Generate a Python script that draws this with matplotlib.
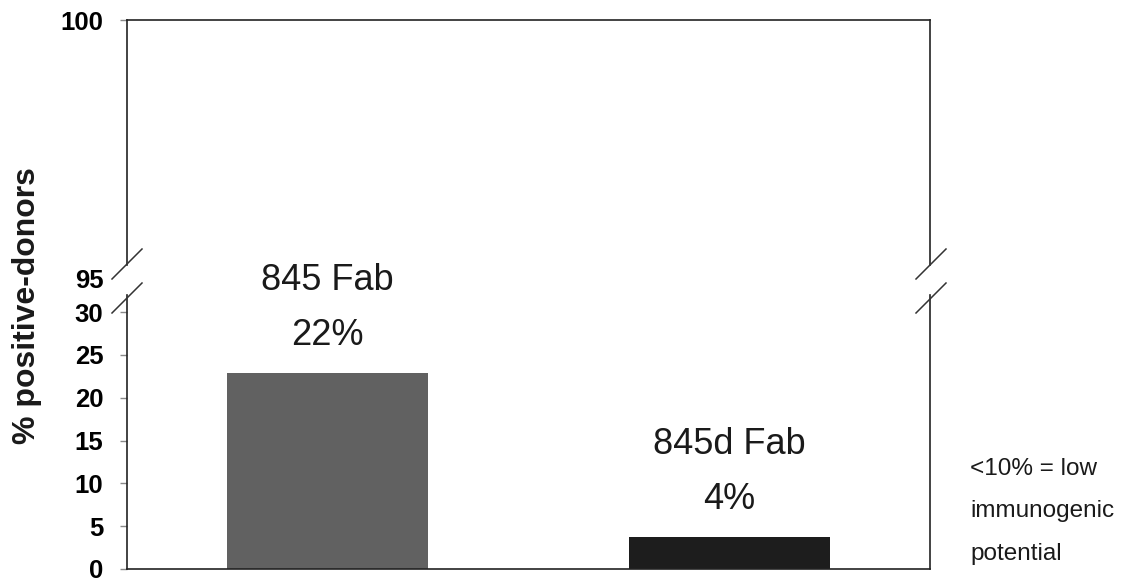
import matplotlib
matplotlib.use("Agg")
import matplotlib.pyplot as plt
from matplotlib.lines import Line2D

plt.rcParams['font.family'] = ['Liberation Sans', 'DejaVu Sans']

# data
names = ['845 Fab', '845d Fab']
values = [22.9, 3.7]
pct_labels = ['22%', '4%']
colors = ['#616161', '#1d1d1d']
low_ticks = [0, 5, 10, 15, 20, 25, 30]
high_ticks = [95, 100]
note_lines = ['<10% = low', 'immunogenic', 'potential']

W, H = 1127, 582
fig = plt.figure(figsize=(W / 100, H / 100), dpi=100)


def fx(px):
    return px / W


def fy(py):
    return 1 - py / H


left, right = 127, 930
ax_low = fig.add_axes([fx(left), fy(569), fx(right - left), fy(295) - fy(569)])
ax_up = fig.add_axes([fx(left), fy(279), fx(right - left), fy(20) - fy(279)])

x = list(range(len(values)))
ax_low.bar(x, values, width=0.5, color=colors)
ax_low.set_xlim(-0.5, 1.5)
ax_up.set_xlim(-0.5, 1.5)
ax_low.set_ylim(0, 32)
ax_up.set_ylim(95, 100)
ax_up.patch.set_alpha(0)

for ax in (ax_low, ax_up):
    ax.set_xticks([])
    for s in ax.spines.values():
        s.set_linewidth(1.2)
        s.set_color('#222222')
    ax.tick_params(axis='y', direction='out', length=5, width=1, color='#888888',
                   pad=12, labelsize=18.5)
ax_low.spines['top'].set_visible(False)
ax_up.spines['bottom'].set_visible(False)
ax_up.spines['left'].set_bounds(95.27, 100)
ax_up.spines['right'].set_bounds(95.27, 100)

ax_low.set_yticks(low_ticks)
ax_up.set_yticks(high_ticks)
for lab in ax_low.get_yticklabels() + ax_up.get_yticklabels():
    lab.set_fontweight('bold')
ax_up.yaxis.get_major_ticks()[0].tick1line.set_visible(False)

# labels above bars
for xi, v, name, pct in zip(x, values, names, pct_labels):
    ax_low.annotate(pct, (xi, v), xytext=(0, 28), textcoords='offset pixels',
                    ha='center', va='baseline', fontsize=26, color='#1a1a1a',
                    annotation_clip=False)
    ax_low.annotate(name, (xi, v), xytext=(0, 83), textcoords='offset pixels',
                    ha='center', va='baseline', fontsize=26, color='#1a1a1a',
                    annotation_clip=False)

# axis break marks
for xs in (112, 916):
    for y0 in (279, 313):
        fig.add_artist(Line2D([fx(xs), fx(xs + 30)], [fy(y0), fy(y0 - 30)],
                              transform=fig.transFigure, color='#333333', lw=1.1))

fig.text(fx(27), fy(306), '% positive-donors', rotation=90, ha='center',
         va='center', fontsize=23, fontweight='bold', color='#1a1a1a')

for line, yb in zip(note_lines, (475, 517, 560)):
    fig.text(fx(970), fy(yb), line, ha='left', va='baseline', fontsize=17.5,
             color='#1a1a1a')

fig.savefig('out.png', dpi=100)
